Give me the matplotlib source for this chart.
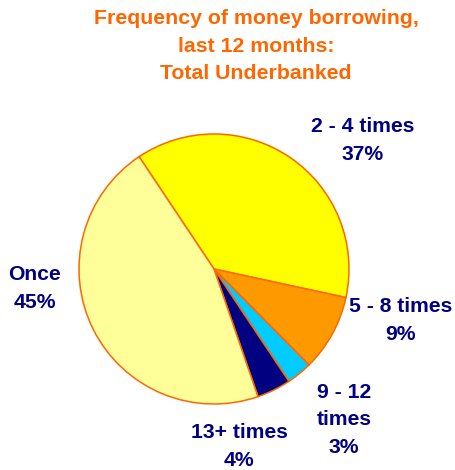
import matplotlib.pyplot as plt

# data
labels = ['2 - 4 times', '5 - 8 times', '9 - 12\ntimes', '13+ times', 'Once']
values = [37, 9, 3, 4, 45]
colors = ['#FFFF00', '#FF9900', '#00CCFF', '#000080', '#FFFF99']
title = 'Frequency of money borrowing,\nlast 12 months:\nTotal Underbanked'

plt.rcParams['font.family'] = ['Liberation Sans', 'DejaVu Sans']

fig = plt.figure(figsize=(4.56, 4.70), dpi=100)
ax = fig.add_axes([0, 0, 1, 1])

# work in pixel-like coords, y measured from the bottom
ax.pie(values, colors=colors, startangle=123.7, counterclock=False,
       center=(214, 201), radius=135,
       wedgeprops=dict(edgecolor='#FF6600', linewidth=1.1))
ax.set_xlim(0, 456)
ax.set_ylim(0, 470)
ax.set_aspect('equal')
ax.axis('off')

lab_kw = dict(color='#000080', fontsize=15.2, fontweight='bold', linespacing=1.6,
              ha='center', va='center')
pct = [f'{v}%' for v in values]
ax.text(363, 470 - 140, labels[0] + '\n' + pct[0], **lab_kw)
ax.text(401, 470 - 320, labels[1] + '\n' + pct[1], **lab_kw)
ax.text(344, 470 - 420, labels[2] + '\n' + pct[2], **lab_kw)
ax.text(239, 470 - 447, labels[3] + '\n' + pct[3], **lab_kw)
ax.text(35, 470 - 289, labels[4] + '\n' + pct[4], **lab_kw)

ax.text(256, 470 - 46, title, ha='center', va='center', color='#FF6600',
        fontsize=15.3, fontweight='bold', linespacing=1.55)

plt.savefig('out.png', dpi=100)
